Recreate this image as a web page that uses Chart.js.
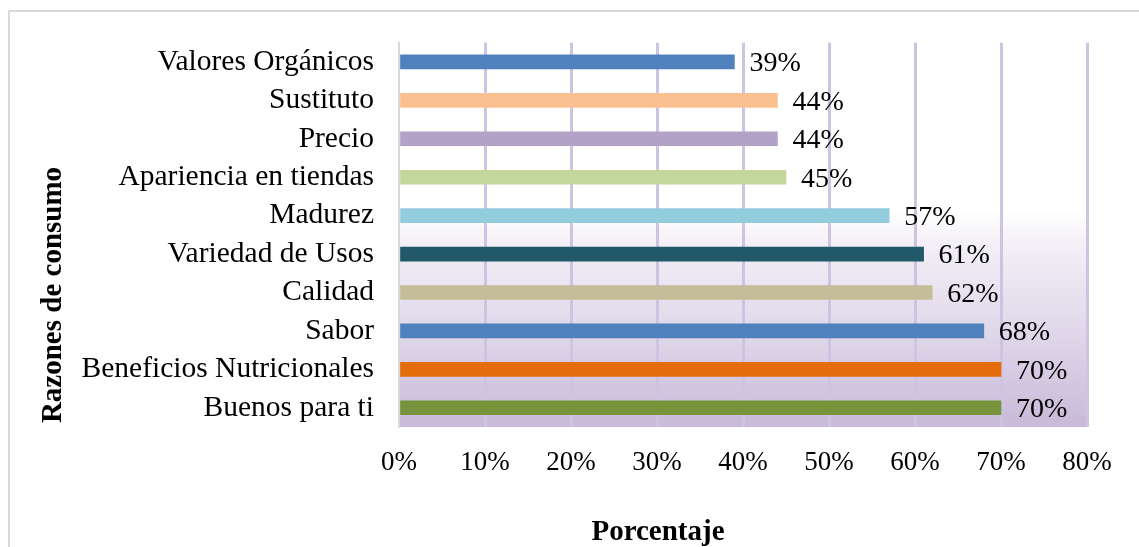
<!DOCTYPE html>
<html>
<head>
<meta charset="utf-8">
<script src="https://cdn.jsdelivr.net/npm/chart.js@4/dist/chart.umd.min.js"></script>
<style>
    html, body { margin: 0; padding: 0; background: #ffffff; }
    #wrap { position: relative; width: 1139px; height: 547px; }
</style>
</head>
<body>
<div id="wrap"><canvas id="razonesChart" width="1139" height="547"></canvas></div>
<script>
/*
============================================================
Data
============================================================
*/

const categories = [
    "Valores Orgánicos",
    "Sustituto",
    "Precio",
    "Apariencia en tiendas",
    "Madurez",
    "Variedad de Usos",
    "Calidad",
    "Sabor",
    "Beneficios Nutricionales",
    "Buenos para ti"
];

const percentages = [39, 44, 44, 45, 57, 61, 62, 68, 70, 70];

const xTicks = [0, 10, 20, 30, 40, 50, 60, 70, 80];

const barColors = [
    "#4F81BD", "#FAC090", "#B3A2C7", "#C3D69B", "#93CDDD",
    "#215968", "#C4BD97", "#4F81BD", "#E46C0A", "#77933C"
];

const yTitle = "Razones de consumo";
const xTitle = "Porcentaje";

const SERIF = "'Liberation Serif', 'Times New Roman', serif";

/*
============================================================
Plugins
============================================================
*/

const plotBackground = {
    id: "plotBackground",
    beforeDraw(chart) {
        const { ctx, chartArea: a } = chart;
        ctx.save();
        // outer chart border
        ctx.strokeStyle = "#D9D9D9";
        ctx.lineWidth = 2;
        ctx.strokeRect(9, 11, 1300, 700);
        // plot area gradient
        const g = ctx.createLinearGradient(0, a.top, 0, a.bottom);
        g.addColorStop(0, "#FFFFFF");
        g.addColorStop(0.44, "#FFFFFF");
        g.addColorStop(0.52, "#F3F0F7");
        g.addColorStop(0.75, "#E0D8EA");
        g.addColorStop(1, "#C8BAD8");
        ctx.fillStyle = g;
        ctx.fillRect(a.left, a.top, a.right - a.left, a.bottom - a.top);
        ctx.restore();
    }
};

const valueLabels = {
    id: "valueLabels",
    afterDatasetsDraw(chart) {
        const { ctx } = chart;
        const meta = chart.getDatasetMeta(0);
        ctx.save();
        ctx.font = "28px " + SERIF;
        ctx.fillStyle = "#000000";
        ctx.textAlign = "left";
        ctx.textBaseline = "middle";
        meta.data.forEach((bar, i) => {
            ctx.fillText(percentages[i] + "%", bar.x + 15, bar.y + 2);
        });
        ctx.restore();
    }
};

const axisTitles = {
    id: "axisTitles",
    afterDraw(chart) {
        const { ctx } = chart;
        ctx.save();
        ctx.fillStyle = "#000000";
        ctx.font = "bold 29px " + SERIF;
        ctx.textAlign = "center";
        ctx.textBaseline = "middle";
        ctx.fillText(xTitle, 658, 533);
        ctx.translate(54, 295);
        ctx.rotate(-Math.PI / 2);
        ctx.fillText(yTitle, 0, 0);
        ctx.restore();
    }
};

/*
============================================================
Chart
============================================================
*/

new Chart(document.getElementById("razonesChart"), {
    type: "bar",
    data: {
        labels: categories,
        datasets: [{
            data: percentages,
            backgroundColor: barColors,
            borderWidth: 0,
            barThickness: 14
        }]
    },
    options: {
        indexAxis: "y",
        responsive: false,
        animation: false,
        layout: {
            padding: { top: 39, right: 52, left: 0, bottom: 0 }
        },
        plugins: {
            legend: { display: false },
            tooltip: { enabled: false }
        },
        scales: {
            x: {
                min: 0,
                max: 80,
                afterBuildTicks(scale) {
                    scale.ticks = xTicks.map(v => ({ value: v }));
                },
                afterFit(scale) {
                    scale.height = 120;
                },
                ticks: {
                    padding: 20,
                    color: "#000000",
                    font: { family: SERIF, size: 27 },
                    callback: v => v + "%"
                },
                grid: {
                    drawTicks: false,
                    lineWidth: 3,
                    color: ctx => ctx.index === 0 ? "rgba(0,0,0,0)" : "#CEC3E0"
                },
                border: { display: false }
            },
            y: {
                afterFit(scale) {
                    scale.width = 399;
                },
                ticks: {
                    padding: 25,
                    color: "#000000",
                    font: { family: SERIF, size: 29.5 }
                },
                grid: { display: false, drawTicks: false },
                border: { display: true, color: "#D9D9D9", width: 2 }
            }
        }
    },
    plugins: [plotBackground, valueLabels, axisTitles]
});
</script>
</body>
</html>
